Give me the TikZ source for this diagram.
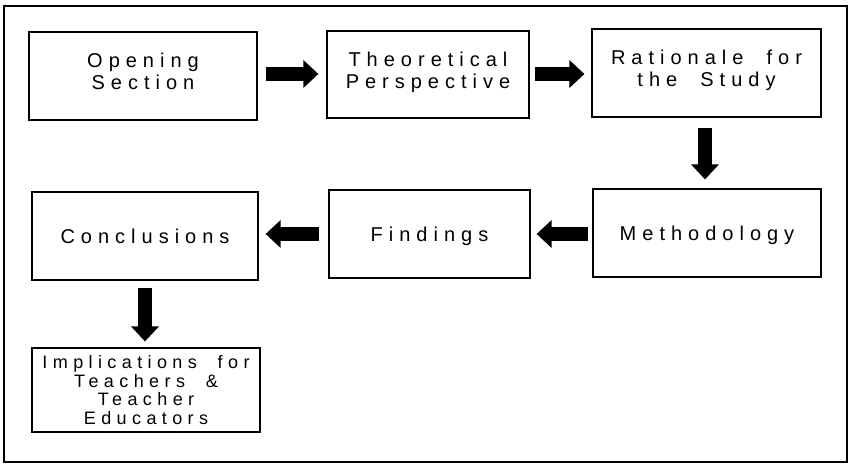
\documentclass[tikz,border=0pt]{standalone}
\usepackage{fontspec}
\setmainfont{Liberation Sans}[LetterSpace=30, WordSpace=2]
\usetikzlibrary{arrows.meta}
\begin{document}
\begin{tikzpicture}[x=1pt,y=-1pt,
  box/.style={draw=black, line width=1.2pt, rectangle, align=center, inner sep=0pt,
    font=\fontsize{20}{22}\selectfont},
  onebox/.style={box, text depth=0pt},
  twobox/.style={box, text depth=9pt},
  smallbox/.style={box, text depth=0pt, font=\fontsize{18}{18.5}\selectfont},
  blockarrow/.style={line width=14pt, draw=black,
    -{Triangle[length=15pt,width=27pt]}}
]
\useasboundingbox (0,0) rectangle (852,464);
\draw[line width=1.3pt] (4,6) rectangle (847,462);

\node[twobox, minimum width=228pt, minimum height=88pt] (op) at (143,76) {Opening\\Section};
\node[twobox, minimum width=202pt, minimum height=87pt] (th) at (428,74.5) {Theoretical\\Perspective};
\node[twobox, minimum width=229pt, minimum height=88pt] (ra) at (706.5,73) {Rationale for\\the Study};
\node[onebox, minimum width=228pt, minimum height=88pt] (me) at (707,233) {Methodology};
\node[onebox, minimum width=201pt, minimum height=88pt] (fi) at (429.5,234) {Findings};
\node[onebox, minimum width=226pt, minimum height=88pt] (co) at (145,236) {Conclusions};
\node[smallbox, minimum width=228pt, minimum height=84pt] (im) at (146,390) {Implications for\\Teachers \&\\Teacher\\Educators};

\draw[blockarrow, shorten <=8pt, shorten >=8pt] (op.east |- 0,74) -- (th.west |- 0,74);
\draw[blockarrow, shorten <=5pt, shorten >=7pt] (th.east |- 0,74) -- (ra.west |- 0,74);
\draw[blockarrow, shorten <=10pt, shorten >=9pt] (ra.south -| 705,0) -- (me.north -| 705,0);
\draw[blockarrow, shorten <=4pt, shorten >=6pt] (me.west |- 0,234) -- (fi.east |- 0,234);
\draw[blockarrow, shorten <=9pt, shorten >=7pt] (fi.west |- 0,234) -- (co.east |- 0,234);
\draw[blockarrow, shorten <=7pt, shorten >=6pt] (co.south -| 145,0) -- (im.north -| 145,0);
\end{tikzpicture}
\end{document}
